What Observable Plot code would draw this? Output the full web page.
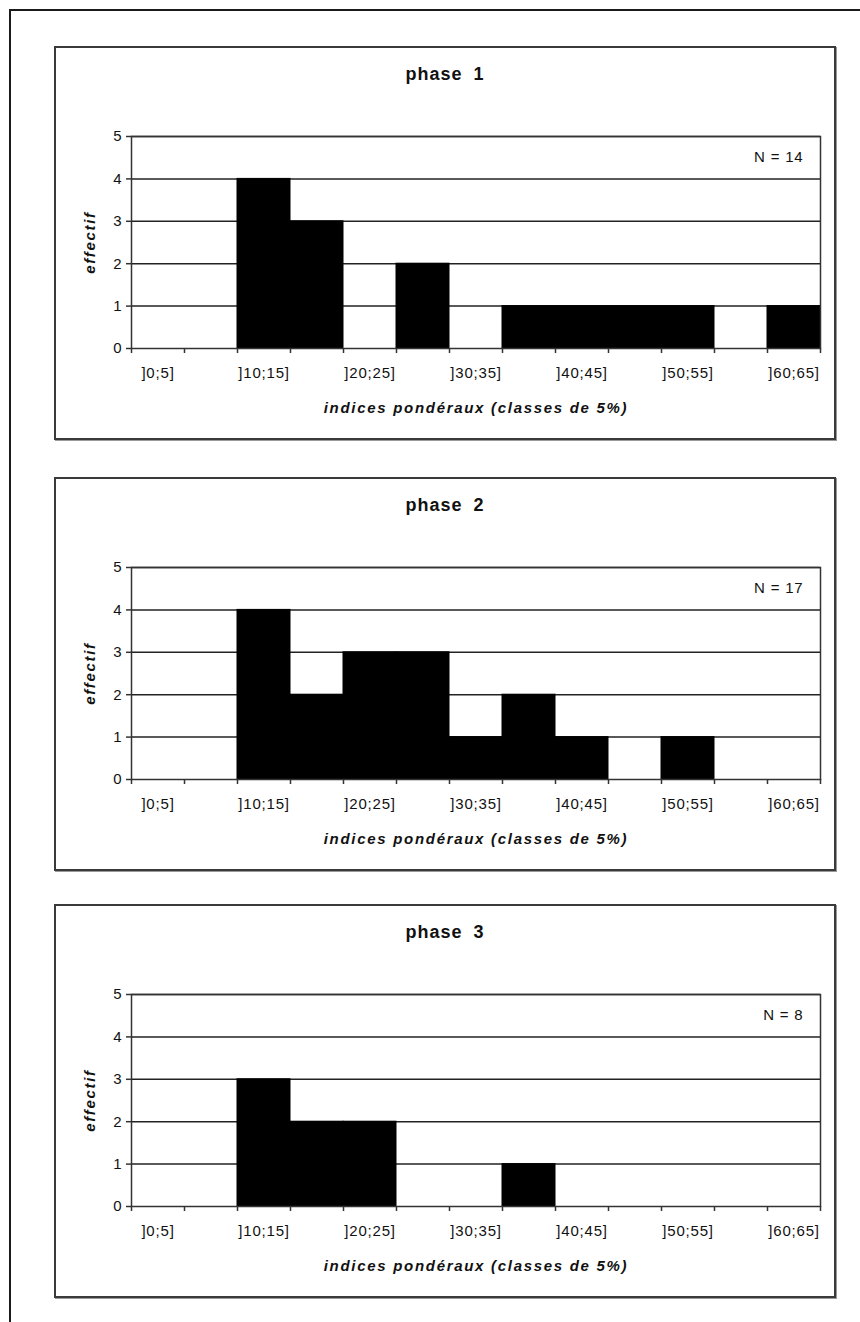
<!DOCTYPE html>
<html>
<head>
<meta charset="utf-8">
<script src="https://cdn.jsdelivr.net/npm/d3@7"></script>
<script src="https://cdn.jsdelivr.net/npm/@observablehq/plot@0.6"></script>
<style>
  html, body { margin: 0; padding: 0; background: #fff; }
  #page { position: relative; width: 860px; height: 1322px; overflow: hidden; background: #fff; font-family: 'Liberation Sans', Arial, sans-serif; }
  .outer { position: absolute; left: 9px; top: 9px; width: 900px; height: 1400px; border: 2px solid #1a1a1a; box-sizing: border-box; }
  .box { position: absolute; left: 54px; width: 782px; height: 394px; border: 2px solid #3a3a3a; box-sizing: border-box; box-shadow: 1px 1px 0 #999; background: #fff; }
  .ptitle { position: absolute; left: 54px; width: 782px; text-align: center; font-weight: bold; font-size: 18px; letter-spacing: 1px; word-spacing: 5px; color: #111; line-height: 20px; }
  .plotwrap { position: absolute; left: 56px; }
</style>
</head>
<body>
<div id="page"><div class="outer"></div></div>
<script>
// ---- data ----
const classLabels = ["]0;5]","]5;10]","]10;15]","]15;20]","]20;25]","]25;30]","]30;35]","]35;40]","]40;45]","]45;50]","]50;55]","]55;60]","]60;65]"];
const classLower = [0,5,10,15,20,25,30,35,40,45,50,55,60];
const classUpper = [5,10,15,20,25,30,35,40,45,50,55,60,65];
const phase1Counts = [0,0,4,3,0,2,0,1,1,1,1,0,1];
const phase2Counts = [0,0,4,2,3,3,1,2,1,0,1,0,0];
const phase3Counts = [0,0,3,2,2,0,0,1,0,0,0,0,0];
const phaseTitles = ["phase 1","phase 2","phase 3"];
const sampleSizes = ["N = 14","N = 17","N = 8"];
const yTicks = [0,1,2,3,4,5];
const xAxisTitle = "indices pondéraux (classes de 5%)";
const yAxisTitle = "effectif";

const panelTops = [46, 477, 904];
const allCounts = [phase1Counts, phase2Counts, phase3Counts];

function makePanel(counts, nLabel) {
  const data = classLabels.map((c, i) => ({label: c, lo: classLower[i], hi: classUpper[i], n: counts[i]}));
  const shown = data.filter((d, i) => i % 2 === 0);
  const centers = shown.map(d => (d.lo + d.hi) / 2);
  const boundaries = [...classLower, classUpper[classUpper.length - 1]];
  const svg = Plot.plot({
    width: 778, height: 310,
    marginLeft: 75, marginRight: 14, marginTop: 20, marginBottom: 78,
    style: {fontFamily: "'Liberation Sans', Arial, sans-serif", fontSize: "15px", background: "transparent", color: "#111", overflow: "visible", letterSpacing: "0.8px"},
    x: {domain: [0, 65], label: null},
    y: {domain: [0, 5], label: null},
    marks: [
      Plot.gridY(yTicks.filter(v => v > 0), {stroke: "#222", strokeOpacity: 1, strokeWidth: 1.5}),
      Plot.rectY(data.filter(d => d.n > 0), {x1: "lo", x2: "hi", y: "n", fill: "#000", stroke: "#000", strokeWidth: 1}),
      Plot.frame({stroke: "#333", strokeWidth: 1.5}),
      Plot.axisY({ticks: yTicks, tickSize: 5, tickPadding: 4, tickFormat: d => String(d), label: null, stroke: "#333", strokeWidth: 1.5, fontSize: 15}),
      Plot.axisX({ticks: boundaries, tickSize: 5, tickFormat: () => "", label: null, stroke: "#333", strokeWidth: 1.5}),
      Plot.axisX({ticks: centers, tickSize: 0, tickPadding: 19, label: null, fontSize: 15,
        tickFormat: v => classLabels[classLower.indexOf(v - 2.5)]}),
      Plot.text([nLabel], {frameAnchor: "top-right", dx: -17, dy: 21, textAnchor: "end", lineAnchor: "middle", text: d => d, fontSize: 15}),
      Plot.text([yAxisTitle], {frameAnchor: "left", dx: -41, rotate: -90, textAnchor: "middle", lineAnchor: "middle", text: d => d, fontWeight: "bold", fontStyle: "italic", fontSize: 15}),
      Plot.text([xAxisTitle], {frameAnchor: "bottom", dy: 60, textAnchor: "middle", lineAnchor: "middle", text: d => d, fontWeight: "bold", fontStyle: "italic", fontSize: 15})
    ]
  });
  d3.select(svg).selectAll("text")
    .filter(function() { return this.textContent === xAxisTitle || this.textContent === yAxisTitle; })
    .style("letter-spacing", "1.7px");
  return svg;
}

const page = document.getElementById("page");
panelTops.forEach((top, i) => {
  const box = document.createElement("div");
  box.className = "box";
  box.style.top = top + "px";
  page.appendChild(box);

  const t = document.createElement("div");
  t.className = "ptitle";
  t.style.top = (top + 18) + "px";
  t.textContent = phaseTitles[i];
  page.appendChild(t);

  const wrap = document.createElement("div");
  wrap.className = "plotwrap";
  wrap.style.top = (top + 70) + "px";
  wrap.appendChild(makePanel(allCounts[i], sampleSizes[i]));
  page.appendChild(wrap);
});
</script>
</body>
</html>
